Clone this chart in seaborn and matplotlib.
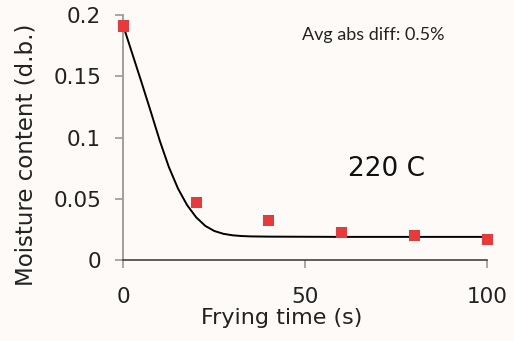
import matplotlib
matplotlib.use("Agg")
import matplotlib.pyplot as plt
import seaborn as sns
import pandas as pd

# measured data (frying at 220 C)
time_obs = [0, 20, 40, 60, 80, 100]
moist_obs = [0.191, 0.047, 0.0325, 0.0225, 0.020, 0.017]

# fitted model curve
time_fit = [0, 2.5, 5, 7.5, 10, 12.5, 15, 17.5, 20, 22.5, 25, 27.5, 30, 32.5, 35, 40, 50, 60, 70, 80, 90, 100]
moist_fit = [0.191, 0.168, 0.145, 0.1215, 0.0975, 0.0760, 0.0585, 0.0450, 0.0350, 0.0280, 0.0238, 0.0215,
             0.0203, 0.0197, 0.0194, 0.0192, 0.0191, 0.019, 0.019, 0.019, 0.019, 0.019]

x_ticks = [0, 50, 100]
y_ticks = [0, 0.05, 0.1, 0.15, 0.2]
y_ticklabels = ["0", "0.05", "0.1", "0.15", "0.2"]

sns.set_theme(style="white")
plt.rcParams['font.family'] = ['DejaVu Sans']

bg = "#fdfaf7"
fig = plt.figure(figsize=(5.14, 3.41), dpi=100, facecolor=bg)
ax = fig.add_axes([0.24, 0.237, 0.708, 0.719])
ax.set_facecolor(bg)

df_fit = pd.DataFrame({"t": time_fit, "m": moist_fit})
df_obs = pd.DataFrame({"t": time_obs, "m": moist_obs})

sns.lineplot(data=df_fit, x="t", y="m", ax=ax, color="black", linewidth=1.4, zorder=2)
sns.scatterplot(data=df_obs, x="t", y="m", ax=ax, marker="s", s=64, color="#e8393b",
                edgecolor="none", linewidth=0, zorder=3, clip_on=False)

ax.set_xlim(0, 100)
ax.set_ylim(0, 0.2)
ax.set_xticks(x_ticks)
ax.set_xticklabels([str(v) for v in x_ticks])
ax.set_yticks(y_ticks)
ax.set_yticklabels(y_ticklabels)

for s in ["top", "right"]:
    ax.spines[s].set_visible(False)
ax.spines["left"].set_color("#999999")
ax.spines["left"].set_linewidth(1.3)
ax.spines["bottom"].set_color("#333333")
ax.spines["bottom"].set_linewidth(1.1)
ax.spines["left"].set_zorder(1)

ax.tick_params(axis="both", which="major", direction="out", length=6, width=1.2,
               color="#999999", labelsize=15.5, labelcolor="#222222")
ax.tick_params(axis="y", pad=10)
ax.tick_params(axis="x", pad=13)
ax.tick_params(axis="y", left=True)
ax.tick_params(axis="x", bottom=True)

ax.set_xlabel("Frying time (s)", fontsize=16, color="#222222")
ax.set_ylabel("Moisture content (d.b.)", fontsize=16.5, color="#222222")
ax.xaxis.set_label_coords(0.435, -0.196)
ax.yaxis.set_label_coords(-0.237, 0.43)

ax.text(72.3, 0.0745, "220 C", fontsize=19, ha="center", va="center", color="#111111")
ax.text(49.1, 0.184, "Avg abs diff: 0.5%", fontsize=13, ha="left", va="center",
        color="#222222", family=["Lato", "DejaVu Sans"])

fig.savefig("out.png", dpi=100, facecolor=bg)
